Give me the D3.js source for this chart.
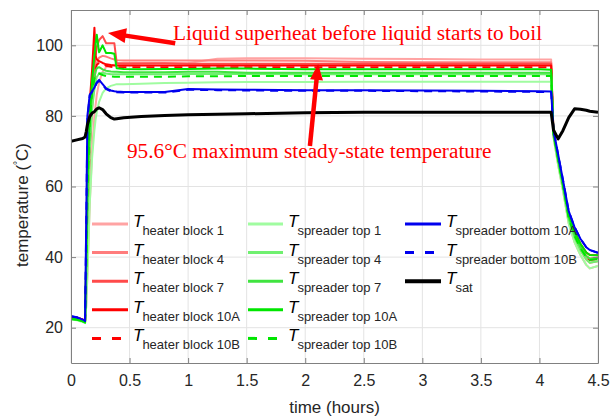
<!DOCTYPE html>
<html><head><meta charset="utf-8">
<script src="https://cdn.jsdelivr.net/npm/d3@7"></script>
<style>body{margin:0;background:#fff}</style></head>
<body><svg id="c" width="612" height="420"></svg>
<script>
// ---- data (time in hours, temperatures in °C) ----
const time = [0, 0.05, 0.1, 0.12, 0.13, 0.14, 0.16, 0.18, 0.2, 0.21, 0.22, 0.24, 0.27, 0.3, 0.34, 0.37, 0.39, 0.45, 0.6, 0.8, 1.0, 1.25, 1.5, 2.0, 2.5, 3.0, 3.5, 4.0, 4.1, 4.12, 4.16, 4.2, 4.25, 4.3, 4.35, 4.4, 4.43, 4.5];

const heater1   = [23.0,22.8,22.3,22.0,26,35,55,70,80,83,86,89.5,92.5,93.8,94.3,94.5,94.6,94.7,94.8,94.9,95.0,96.2,96.3,96.3,96.2,96.1,96.0,96.0,96.0, 74,66,59,49.5,44.2,40.6,37.8,36.8,37.5];
const heater4   = [23.0,22.8,22.3,22.0,30,45,68,82,90,93,95,96.5,97,96.8,96.3,96.0,95.8,95.7,95.7,95.7,95.7,95.7,95.7,95.6,95.3,95.2,95.2,95.2,95.2, 74.5,67,60,50.6,45.5,42,39.3,38.4,38.8];
const heater7   = [23.0,22.8,22.3,22.0,35,55,78,88,94,97,99.5,101.5,102.6,100.6,100.6,100.6,95.0,94.9,94.9,94.9,94.8,94.8,94.8,94.8,94.8,94.8,94.8,94.8,94.8, 75,67.5,60.5,51.3,46.3,42.8,40.3,39.5,39.8];
const heater10A = [23.0,22.8,22.3,22.0,38,62,84,93,105,97,96,95.5,95,94.6,94.4,94.3,94.3,94.3,94.3,94.3,94.3,94.3,94.3,94.3,94.3,94.3,94.3,94.3,94.3, 75,68,61,52,47.2,43.8,41.3,40.6,40.5];
const heater10B = [23.0,22.8,22.3,22.0,33,50,72,85,91,93,94.5,95,94.8,94.2,93.9,93.8,93.8,93.8,93.8,93.8,93.8,93.8,93.8,93.8,93.8,93.8,93.8,93.8,93.8, 75,67.5,60.5,51,46,42.5,40,39.2,39.5];

const top1   = [22.3,22.1,21.6,21.3,26,35,55,68,76,79,81,84,86.5,87.8,88.5,88.8,89.0,89.0,89.1,89.3,89.4,89.5,89.6,89.6,89.7,89.7,89.7,89.7,89.7, 74,66,59,49.5,44.2,40.6,37.8,36.8,37.5];
const top4   = [22.5,22.3,21.8,21.5,32,50,70,82,87.5,89.5,91,92,92.2,92,91.8,91.8,91.8,91.8,91.8,91.8,91.9,91.9,91.9,91.8,91.8,91.8,91.8,91.8,91.8, 74.5,67,60,50.6,45.5,42,39.3,38.4,38.8];
const top7   = [22.5,22.3,21.8,21.5,36,58,78,87,91,92.5,93.5,93.8,93.2,92.8,92.6,92.5,92.5,92.4,92.4,92.4,92.5,92.5,92.2,92.2,92.2,92.2,92.2,92.2,92.2, 75,67.5,60.5,51.3,46.3,42.8,40.3,39.5,39.8];
const top10A = [22.5,22.3,21.8,21.5,40,62,80,90,97,100.5,103,98,100,97.8,97.8,97.6,93.5,93.3,93.2,93.3,93.3,93.4,93.4,93.2,93.2,93.2,93.2,93.2,93.1, 75,68,61,52,47.2,43.8,41.3,40.6,40.5];
const top10B = [22.5,22.3,21.8,21.5,36,58,78,87,90.5,91.5,92,92,91.6,91.3,91.2,91.1,91.1,91.1,91.1,91.1,91.2,91.2,91.3,91.3,91.3,91.3,91.3,91.3,91.3, 75,67.5,60.5,51,46,42.5,40,39.2,39.5];

const bottom10A = [23.3,23.0,22.3,22.0,50,80,86,87,88,88.8,89.5,90.2,89.0,87.8,87.2,87.0,86.9,86.8,86.8,86.8,87.6,87.5,87.4,87.3,87.3,87.2,87.1,87.0,86.9, 76,69,62,53,48.5,45.2,42.8,42.0,41.2];
const bottom10B = [23.2,22.9,22.2,21.9,49,79,85.8,86.8,87.8,88.6,89.3,90.0,88.8,87.6,87.0,86.8,86.7,86.6,86.6,86.6,87.4,87.3,87.2,87.1,87.1,87.0,86.9,86.8,86.7, 76,69,62,53,48.5,45.2,42.8,42.0,41.2];

const tsat = [72.8,73.2,73.6,74.0,75.5,77.5,79.8,80.8,81.2,81.6,82.0,82.3,81.8,80.6,79.5,79.1,79.2,79.5,79.8,80.1,80.3,80.5,80.6,80.9,81.0,81.0,81.0,81.0,81.0, 76.0,73.5,75.8,79.5,82.0,81.9,81.6,81.3,81.0];

const xTicks = [0, 0.5, 1, 1.5, 2, 2.5, 3, 3.5, 4, 4.5];
const yTicks = [20, 40, 60, 80, 100];

// ---- series styling ----
const series = [
  {sub:"heater block 1",  v:heater1,   color:"#ffa3a3", w:2},
  {sub:"heater block 4",  v:heater4,   color:"#ff7c7c", w:2},
  {sub:"heater block 7",  v:heater7,   color:"#ff4a4a", w:2},
  {sub:"heater block 10A",v:heater10A, color:"#ff0000", w:2},
  {sub:"heater block 10B",v:heater10B, color:"#ff0000", w:2, dash:"8,6"},
  {sub:"spreader top 1",  v:top1,      color:"#a0fca0", w:2},
  {sub:"spreader top 4",  v:top4,      color:"#70f070", w:2},
  {sub:"spreader top 7",  v:top7,      color:"#40e440", w:2},
  {sub:"spreader top 10A",v:top10A,    color:"#00e600", w:2},
  {sub:"spreader top 10B",v:top10B,    color:"#00e600", w:2, dash:"8,6"},
  {sub:"spreader bottom 10A",v:bottom10A,color:"#0000ee", w:2},
  {sub:"spreader bottom 10B",v:bottom10B,color:"#0000ee", w:2, dash:"8,6"},
  {sub:"sat",             v:tsat,      color:"#000000", w:3}
];

const svg = d3.select("#c");
const L=71, R=598, T=10, B=363;
const x = d3.scaleLinear().domain([0,4.5]).range([L,R]);
const y = d3.scaleLinear().domain([10,110]).range([B,T]);

// grid
const g = svg.append("g");
g.selectAll(".gx").data(xTicks).enter().append("line")
  .attr("x1",d=>x(d)).attr("x2",d=>x(d)).attr("y1",T).attr("y2",B)
  .attr("stroke","#e3e3e3").attr("stroke-width",1);
g.selectAll(".gy").data(yTicks).enter().append("line")
  .attr("y1",d=>y(d)).attr("y2",d=>y(d)).attr("x1",L).attr("x2",R)
  .attr("stroke","#e3e3e3").attr("stroke-width",1);

// data lines
const clip = svg.append("clipPath").attr("id","cp").append("rect")
  .attr("x",L).attr("y",T).attr("width",R-L).attr("height",B-T);
const line = d3.line().x((d,i)=>x(time[i])).y(d=>y(d));
const lg = svg.append("g").attr("clip-path","url(#cp)");
series.forEach(s=>{
  lg.append("path").attr("d",line(s.v)).attr("fill","none")
    .attr("stroke",s.color).attr("stroke-width",s.w)
    .attr("stroke-linejoin","round")
    .attr("stroke-dasharray",s.dash||null);
});

// axes
const axColor="#808080", txtColor="#262626";
function styleAxis(sel, hide){
  sel.select(".domain").attr("stroke",axColor);
  sel.selectAll(".tick line").attr("stroke",axColor);
  sel.selectAll(".tick text").attr("fill",txtColor)
    .style("font-family","'Liberation Sans', Arial, sans-serif").style("font-size","16px");
  if(hide) sel.selectAll(".tick text").remove();
}
svg.append("g").attr("transform",`translate(0,${B})`)
  .call(d3.axisBottom(x).tickValues(xTicks).tickFormat(d3.format("")).tickSizeInner(-5).tickSizeOuter(0).tickPadding(12))
  .call(s=>styleAxis(s,false));
svg.append("g").attr("transform",`translate(0,${T})`)
  .call(d3.axisTop(x).tickValues(xTicks).tickSizeInner(-5).tickSizeOuter(0))
  .call(s=>styleAxis(s,true));
svg.append("g").attr("transform",`translate(${L},0)`)
  .call(d3.axisLeft(y).tickValues(yTicks).tickSizeInner(-5).tickSizeOuter(0).tickPadding(8))
  .call(s=>styleAxis(s,false));
svg.append("g").attr("transform",`translate(${R},0)`)
  .call(d3.axisRight(y).tickValues(yTicks).tickSizeInner(-5).tickSizeOuter(0))
  .call(s=>styleAxis(s,true));

// axis labels
svg.append("text").attr("x",(L+R)/2).attr("y",413).attr("text-anchor","middle")
  .attr("fill",txtColor).style("font-family","'Liberation Sans', Arial, sans-serif").style("font-size","17px")
  .text("time (hours)");
const yl = svg.append("text").attr("transform","translate(28,205) rotate(-90)").attr("text-anchor","middle")
  .attr("fill",txtColor).style("font-family","'Liberation Sans', Arial, sans-serif").style("font-size","17px");
yl.append("tspan").text("temperature (");
yl.append("tspan").attr("dy",-7).style("font-size","10px").text("°");
yl.append("tspan").attr("dy",7).text("C)");

// legend
const colX = [[92,128,133],[248,283,288],[405,441,446]];
const cols = [series.slice(0,5), series.slice(5,10), series.slice(10)];
cols.forEach((c,ci)=>{
  c.forEach((s,ri)=>{
    const ly = 224 + ri*28.6;
    svg.append("line").attr("x1",colX[ci][0]).attr("x2",colX[ci][1]).attr("y1",ly).attr("y2",ly)
      .attr("stroke",s.color).attr("stroke-width",s.sub==="sat"?4:3)
      .attr("stroke-dasharray",s.dash?"9,11":null);
    const t = svg.append("text").attr("x",colX[ci][2]).attr("y",ly+3)
      .attr("fill","#000").style("font-family","'Liberation Sans', Arial, sans-serif");
    t.append("tspan").style("font-style","italic").style("font-size","17px").text("T");
    t.append("tspan").attr("dy",8).attr("dx",-1).style("font-size","13px").attr("fill","#262626").text(s.sub);
  });
});

// annotations
function arrow(t1,v1,t2,v2,hl,hw){
  const x1=x(t1), y1=y(v1), x2=x(t2), y2=y(v2);
  const dx=x2-x1, dy=y2-y1, len=Math.hypot(dx,dy), ux=dx/len, uy=dy/len;
  const bx=x2-ux*hl, by=y2-uy*hl;
  svg.append("line").attr("x1",x1).attr("y1",y1).attr("x2",bx+ux*2).attr("y2",by+uy*2)
    .attr("stroke","#ff0000").attr("stroke-width",4.5);
  svg.append("path").attr("fill","#ff0000")
    .attr("d",`M${x2},${y2}L${bx-uy*hw/2},${by+ux*hw/2}L${bx+uy*hw/2},${by-ux*hw/2}Z`);
}
arrow(0.89,100.6,0.316,103.5,18,15);
arrow(2.04,71.5,2.11,94.7,16,13);
const serif = "'Liberation Serif','Times New Roman',serif";
svg.append("text").attr("x",x(0.871)).attr("y",y(101.4)).attr("fill","#ff0000")
  .style("font-family",serif).style("font-size","21.3px").text("Liquid superheat before liquid starts to boil");
svg.append("text").attr("x",x(0.478)).attr("y",y(68.2)).attr("fill","#ff0000")
  .style("font-family",serif).style("font-size","21.3px").text("95.6°C maximum steady-state temperature");
</script></body></html>
